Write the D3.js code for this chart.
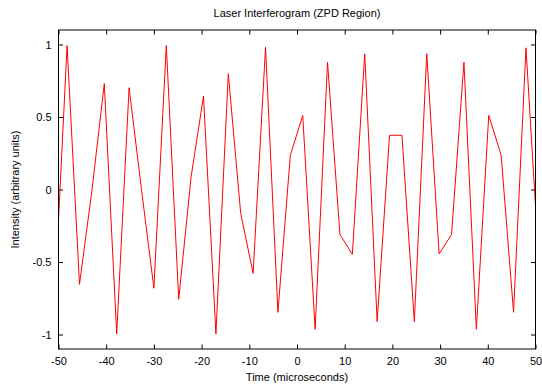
<!DOCTYPE html>
<html>
<head>
<meta charset="utf-8">
<script src="https://cdn.jsdelivr.net/npm/d3@7"></script>
<style>
  body { margin: 0; background: #fff; }
  svg { display: block; font-family: "Liberation Sans", Arial, sans-serif; }
</style>
</head>
<body>
<svg id="chart" width="542" height="386"></svg>
<script>
// sample times (microseconds) and intensities
const times = [-50.8, -48.2, -45.6, -43.0, -40.4, -37.8, -35.2, -32.6, -30.0, -27.4,
  -24.8, -22.2, -19.6, -17.0, -14.4, -11.8, -9.2, -6.6, -4.0, -1.4,
  1.2, 3.8, 6.4, 9.0, 11.6, 14.2, 16.8, 19.4, 22.0, 24.6,
  27.2, 29.8, 32.4, 35.0, 37.6, 40.2, 42.8, 45.4, 48.0, 50.6];
const intensity = [-0.744, 0.993, -0.654, -0.01, 0.730, -0.996, 0.702, 0.0, -0.681, 0.993,
  -0.757, 0.087, 0.644, -0.996, 0.798, -0.165, -0.578, 0.981, -0.847, 0.236,
  0.511, -0.964, 0.878, -0.310, -0.447, 0.936, -0.911, 0.374, 0.374, -0.911,
  0.936, -0.445, -0.310, 0.878, -0.964, 0.511, 0.236, -0.847, 0.977, -0.44];
const xTicks = [-50, -40, -30, -20, -10, 0, 10, 20, 30, 40, 50];
const yTicks = [-1, -0.5, 0, 0.5, 1];

const pLeft = 58.5, pRight = 535.5, pTop = 30, pBottom = 349;
const svg = d3.select("#chart");

const x = d3.scaleLinear().domain([-50, 50]).range([pLeft, pRight]);
const y = d3.scaleLinear().domain([-1.1, 1.1]).range([pBottom, pTop]);
const fmt = d => String(d);
const tick = 4.5;

// bottom axis with labels
const gx = svg.append("g")
  .attr("transform", "translate(0," + pBottom + ")")
  .call(d3.axisBottom(x).tickValues(xTicks).tickFormat(fmt).tickSizeInner(-tick).tickSizeOuter(0).tickPadding(8));
// top mirror ticks
const gxt = svg.append("g")
  .attr("transform", "translate(0," + pTop + ")")
  .call(d3.axisTop(x).tickValues(xTicks).tickFormat("").tickSizeInner(-tick).tickSizeOuter(0));
// left axis with labels
const gy = svg.append("g")
  .attr("transform", "translate(" + pLeft + ",0)")
  .call(d3.axisLeft(y).tickValues(yTicks).tickFormat(fmt).tickSizeInner(-tick).tickSizeOuter(0).tickPadding(7));
// right mirror ticks
const gyr = svg.append("g")
  .attr("transform", "translate(" + pRight + ",0)")
  .call(d3.axisRight(y).tickValues(yTicks).tickFormat("").tickSizeInner(-tick).tickSizeOuter(0));

[gx, gxt, gy, gyr].forEach(g => {
  g.select(".domain").remove();
  g.selectAll("line").attr("stroke", "#000");
  g.selectAll("text").attr("fill", "#000").style("font-size", "11px");
});

// clip the curve to the plot area
svg.append("clipPath").attr("id", "clip")
  .append("rect")
  .attr("x", pLeft).attr("y", pTop)
  .attr("width", pRight - pLeft).attr("height", pBottom - pTop);

const pts = times.map((t, i) => [t, intensity[i]]);
const line = d3.line().x(d => x(d[0])).y(d => y(d[1]));
svg.append("path")
  .datum(pts)
  .attr("clip-path", "url(#clip)")
  .attr("fill", "none")
  .attr("stroke", "#ff0000")
  .attr("stroke-width", 1)
  .attr("d", line);

// frame
svg.append("rect")
  .attr("x", pLeft).attr("y", pTop)
  .attr("width", pRight - pLeft).attr("height", pBottom - pTop)
  .attr("fill", "none")
  .attr("stroke", "#000")
  .attr("stroke-width", 1);

// title and axis labels
svg.append("text")
  .attr("x", (pLeft + pRight) / 2).attr("y", 17)
  .attr("text-anchor", "middle")
  .style("font-size", "11px")
  .text("Laser Interferogram (ZPD Region)");

svg.append("text")
  .attr("x", (pLeft + pRight) / 2).attr("y", 381)
  .attr("text-anchor", "middle")
  .style("font-size", "11px")
  .text("Time (microseconds)");

svg.append("text")
  .attr("transform", "translate(19," + ((pTop + pBottom) / 2) + ") rotate(-90)")
  .attr("text-anchor", "middle")
  .style("font-size", "11px")
  .text("Intensity (arbitrary units)");
</script>
</body>
</html>
